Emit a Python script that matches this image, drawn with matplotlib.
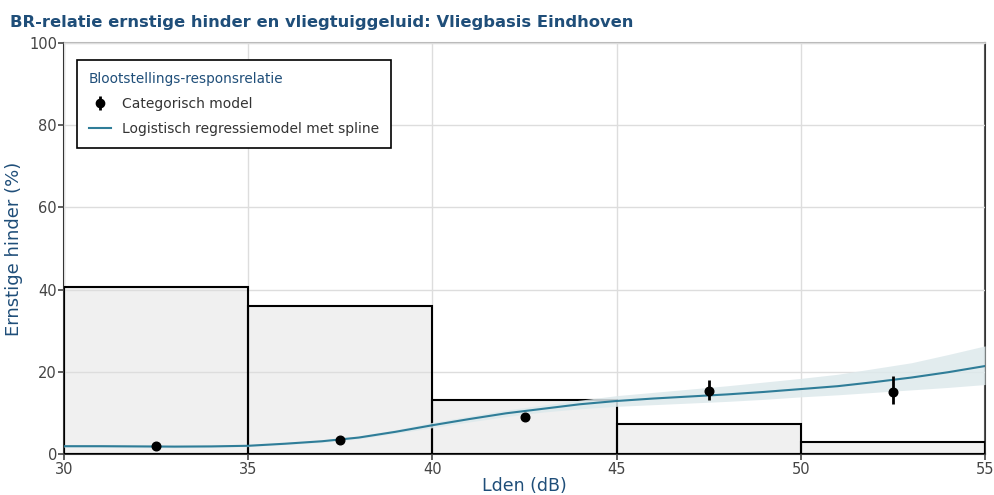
import matplotlib
matplotlib.use("Agg")
import matplotlib.pyplot as plt
from matplotlib.lines import Line2D

plt.rcParams['font.family'] = ['DejaVu Sans']

# Bars: categories (Lden bins) and their heights (%)
bin_left = [30, 35, 40, 45, 50]
bin_right = [35, 40, 45, 50, 55]
bin_height = [40.6, 35.9, 13.1, 7.3, 2.9]

# Categorical model points
cat_x = [32.5, 37.5, 42.5, 47.5, 52.5]
cat_y = [2.0, 3.3, 9.0, 15.3, 15.2]
cat_lo = [1.7, 2.9, 8.3, 13.2, 12.1]
cat_hi = [2.4, 3.8, 9.8, 17.9, 19.0]

# Logistic regression spline curve with confidence band
curve_x = [30, 31, 32, 33, 34, 35, 36, 37, 38, 39, 40, 41, 42, 43, 44,
           45, 46, 47, 48, 49, 50, 51, 52, 53, 54, 55]
curve_y = [1.9, 1.9, 1.85, 1.8, 1.85, 2.0, 2.5, 3.1, 4.0, 5.4, 7.0, 8.5, 9.9,
           11.0, 12.1, 12.9, 13.5, 14.0, 14.5, 15.1, 15.8, 16.5, 17.5, 18.6,
           19.9, 21.4]
curve_lo = [1.6, 1.6, 1.55, 1.5, 1.6, 1.8, 2.3, 2.8, 3.7, 5.0, 6.4, 7.8, 9.1,
            10.2, 11.0, 11.6, 12.0, 12.4, 12.8, 13.3, 13.9, 14.4, 15.0, 15.6,
            16.2, 16.9]
curve_hi = [2.2, 2.2, 2.15, 2.1, 2.1, 2.2, 2.8, 3.4, 4.4, 5.9, 7.7, 9.2, 10.7,
            11.9, 13.1, 14.2, 15.0, 15.8, 16.6, 17.5, 18.4, 19.4, 20.8, 22.2,
            24.2, 26.3]

x_ticks = [30, 35, 40, 45, 50, 55]
y_ticks = [0, 20, 40, 60, 80, 100]

title = "BR-relatie ernstige hinder en vliegtuiggeluid: Vliegbasis Eindhoven"
blue = "#1f4e79"
curve_color = "#2f7d98"
band_color = "#dde9ec"

fig = plt.figure(figsize=(9.95, 4.95), dpi=100)
ax = fig.add_axes([64 / 995, 41 / 495, (985 - 64) / 995, (454 - 43) / 495])

for l, r, h in zip(bin_left, bin_right, bin_height):
    # fill below the grid, outline above the grid
    ax.bar(l, h, width=r - l, align='edge', color='#f0f0f0',
           linewidth=0, zorder=1)
    ax.bar(l, h, width=r - l, align='edge', fill=False,
           edgecolor='black', linewidth=1.5, zorder=2.6)

ax.fill_between(curve_x, curve_lo, curve_hi, color=band_color, alpha=0.85,
                linewidth=0, zorder=3)
ax.plot(curve_x, curve_y, color=curve_color, linewidth=1.5, zorder=4)

yerr = [[y - lo for y, lo in zip(cat_y, cat_lo)],
        [hi - y for y, hi in zip(cat_y, cat_hi)]]
ax.errorbar(cat_x, cat_y, yerr=yerr, fmt='o', color='black', markersize=6.2,
            elinewidth=2, capsize=0, zorder=5)

ax.set_xlim(30, 55)
ax.set_ylim(0, 100)
ax.set_xticks(x_ticks)
ax.set_yticks(y_ticks)
ax.set_axisbelow(False)
ax.grid(True, color='#dddddd', linewidth=1, zorder=2)
ax.tick_params(colors='#444444', labelsize=10.5, length=4, width=1.2,
               direction='out')
ax.tick_params(axis='x', pad=2)
ax.tick_params(axis='y', pad=1)

for side in ['left', 'bottom', 'right']:
    ax.spines[side].set_color('#333333')
    ax.spines[side].set_linewidth(1.5)
ax.spines['top'].set_color('#bbbbbb')
ax.spines['top'].set_linewidth(1.5)

ax.set_xlabel("Lden (dB)", color=blue, fontsize=12.5, labelpad=0)
ax.set_ylabel("Ernstige hinder (%)", color=blue, fontsize=13, labelpad=4)

fig.text(10 / 995, 1 - 22 / 495, title, fontsize=11.8, fontweight='bold',
         color=blue, ha='left', va='center')

curve_handle = Line2D([0], [0], color=curve_color, linewidth=1.5)
eb = ax.errorbar([], [], yerr=[], fmt='o', color='black', markersize=6,
                 elinewidth=2, capsize=0)
leg = ax.legend([eb, curve_handle],
                ["Categorisch model", "Logistisch regressiemodel met spline"],
                title="Blootstellings-responsrelatie", loc='upper left',
                bbox_to_anchor=(13 / 921, 1 - 17 / 411), borderaxespad=0,
                fontsize=10, title_fontsize=9.8, frameon=True, fancybox=False,
                edgecolor='black', framealpha=1, borderpad=0.85,
                handlelength=1.6, handletextpad=0.8, labelspacing=0.8)
leg.get_frame().set_linewidth(1.2)
leg.get_title().set_color(blue)
leg._legend_box.align = "left"
for t in leg.get_texts():
    t.set_color('#333333')
leg.set_zorder(10)

fig.savefig("out.png", dpi=100)
